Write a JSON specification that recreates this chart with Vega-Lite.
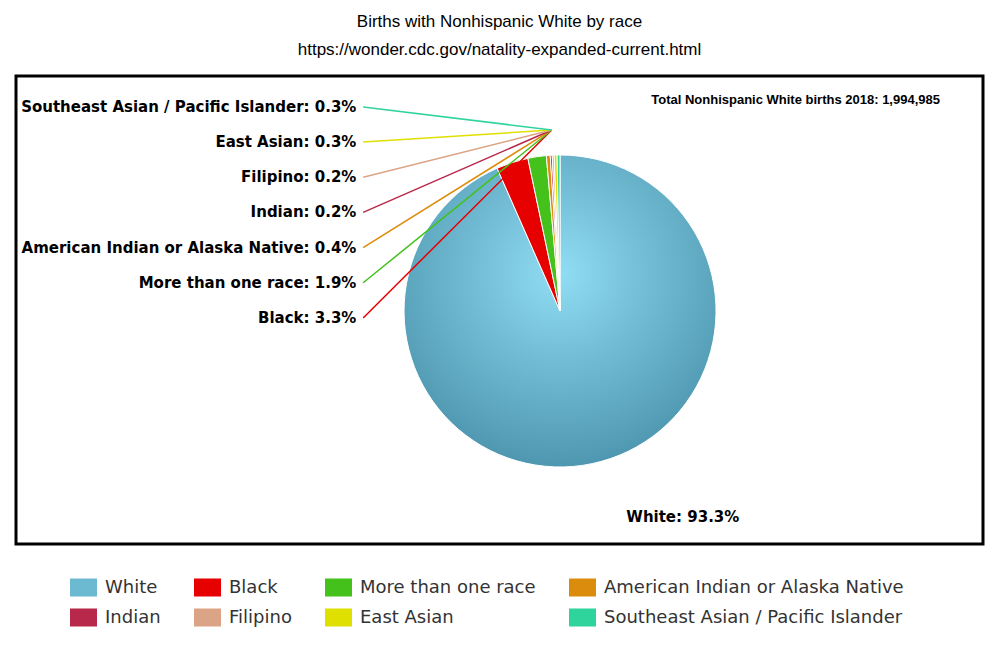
{
  "$schema": "https://vega.github.io/schema/vega-lite/v6.json",
  "width": 967,
  "height": 468,
  "autosize": {"type": "none"},
  "padding": {"left": 16, "top": 76, "right": 17, "bottom": 123},
  "background": "white",
  "title": {
    "text": ["Births with Nonhispanic White by race", "https://wonder.cdc.gov/natality-expanded-current.html"],
    "font": "Liberation Sans",
    "fontSize": 17,
    "fontWeight": "normal",
    "color": "black",
    "lineHeight": 28,
    "anchor": "middle",
    "offset": 17
  },
  "config": {
    "view": {"stroke": "black", "strokeWidth": 3},
    "axis": {"disable": true},
    "legend": {"gridAlign": "none"}
  },
  "data": {
    "values": [
      {"category": "White", "pct": 93.3, "label": "White: 93.3%"},
      {"category": "Black", "pct": 3.3, "label": "Black: 3.3%"},
      {"category": "More than one race", "pct": 1.9, "label": "More than one race: 1.9%"},
      {"category": "American Indian or Alaska Native", "pct": 0.4, "label": "American Indian or Alaska Native: 0.4%"},
      {"category": "Indian", "pct": 0.2, "label": "Indian: 0.2%"},
      {"category": "Filipino", "pct": 0.2, "label": "Filipino: 0.2%"},
      {"category": "East Asian", "pct": 0.3, "label": "East Asian: 0.3%"},
      {"category": "Southeast Asian / Pacific Islander", "pct": 0.3, "label": "Southeast Asian / Pacific Islander: 0.3%"}
    ]
  },
  "transform": [{"window": [{"op": "row_number", "as": "idx"}]}],
  "layer": [
    {
      "mark": {"type": "arc", "outerRadius": 156, "stroke": "white", "strokeWidth": 1},
      "encoding": {
        "x": {"datum": 56.26, "type": "quantitative", "scale": {"domain": [0, 100], "zero": false, "nice": false}, "axis": null},
        "y": {"datum": 50.21, "type": "quantitative", "scale": {"domain": [0, 100], "reverse": true, "zero": false, "nice": false}, "axis": null},
        "theta": {"field": "pct", "type": "quantitative", "stack": true},
        "order": {"field": "idx", "type": "quantitative"},
        "color": {
          "condition": {
            "test": "datum.category === 'White'",
            "value": {"gradient": "radial", "x1": 0.5, "y1": 0.38, "r1": 0, "x2": 0.5, "y2": 0.38, "r2": 0.68, "stops": [{"offset": 0, "color": "#90ddf4"}, {"offset": 1, "color": "#4890a9"}]}
          },
          "field": "category",
          "type": "nominal",
          "scale": {
            "domain": ["White", "Black", "More than one race", "American Indian or Alaska Native", "Indian", "Filipino", "East Asian", "Southeast Asian / Pacific Islander"],
            "range": ["#6cbad2", "#e60000", "#44c11b", "#dc8c0c", "#b8284b", "#dba486", "#e0e000", "#2fd49c"]
          },
          "legend": {
            "title": null,
            "orient": "none",
            "legendX": 54,
            "legendY": 498,
            "direction": "horizontal",
            "columns": 4,
            "gridAlign": "none",
            "columnPadding": 33,
            "rowPadding": 7,
            "symbolType": "M-1,-0.667H1V0.667H-1Z",
            "symbolSize": 729,
            "symbolStrokeWidth": 0,
            "labelFont": "DejaVu Sans",
            "labelFontSize": 18,
            "labelColor": "#333333",
            "labelOffset": 8,
            "labelLimit": 500
          }
        }
      }
    },
    {
      "mark": {"type": "text", "radius": 215, "align": "left", "baseline": "middle", "dx": 22, "dy": -4, "font": "DejaVu Sans", "fontSize": 15, "fontWeight": "bold", "color": "black"},
      "encoding": {
        "x": {"datum": 56.26, "type": "quantitative"},
        "y": {"datum": 50.21, "type": "quantitative", "scale": {"domain": [0, 100], "reverse": true, "zero": false, "nice": false}},
        "theta": {"field": "pct", "type": "quantitative", "stack": true},
        "order": {"field": "idx", "type": "quantitative"},
        "text": {"condition": {"test": "datum.category === 'White'", "field": "label"}, "value": ""}
      }
    },
    {
      "transform": [
        {"filter": "datum.category !== 'White'"},
        {"window": [{"op": "row_number", "as": "rank"}], "sort": [{"field": "idx", "order": "descending"}]}
      ],
      "layer": [
        {
          "mark": {"type": "rule", "strokeWidth": 1.5},
          "encoding": {
            "x": {"datum": 35.9, "type": "quantitative"},
            "x2": {"datum": 55.4},
            "y": {"field": "rank", "type": "quantitative", "scale": {"domain": [0.12, 13.43], "reverse": true, "zero": false, "nice": false}, "axis": null},
            "y2": {"datum": 1.655},
            "color": {"field": "category", "type": "nominal"}
          }
        },
        {
          "mark": {"type": "text", "align": "right", "baseline": "middle", "font": "DejaVu Sans", "fontSize": 15, "fontWeight": "bold", "color": "black"},
          "encoding": {
            "x": {"datum": 35.2, "type": "quantitative"},
            "y": {"field": "rank", "type": "quantitative"},
            "text": {"field": "label"}
          }
        }
      ]
    },
    {
      "transform": [{"filter": "datum.idx === 1"}],
      "mark": {"type": "text", "align": "right", "baseline": "middle", "font": "Liberation Sans", "fontSize": 13, "fontWeight": "bold", "color": "black"},
      "encoding": {
        "x": {"datum": 95.55, "type": "quantitative"},
        "y": {"datum": 5.13, "type": "quantitative", "scale": {"domain": [0, 100], "reverse": true, "zero": false, "nice": false}},
        "text": {"value": "Total Nonhispanic White births 2018: 1,994,985"}
      }
    }
  ],
  "resolve": {"scale": {"y": "independent"}}
}
